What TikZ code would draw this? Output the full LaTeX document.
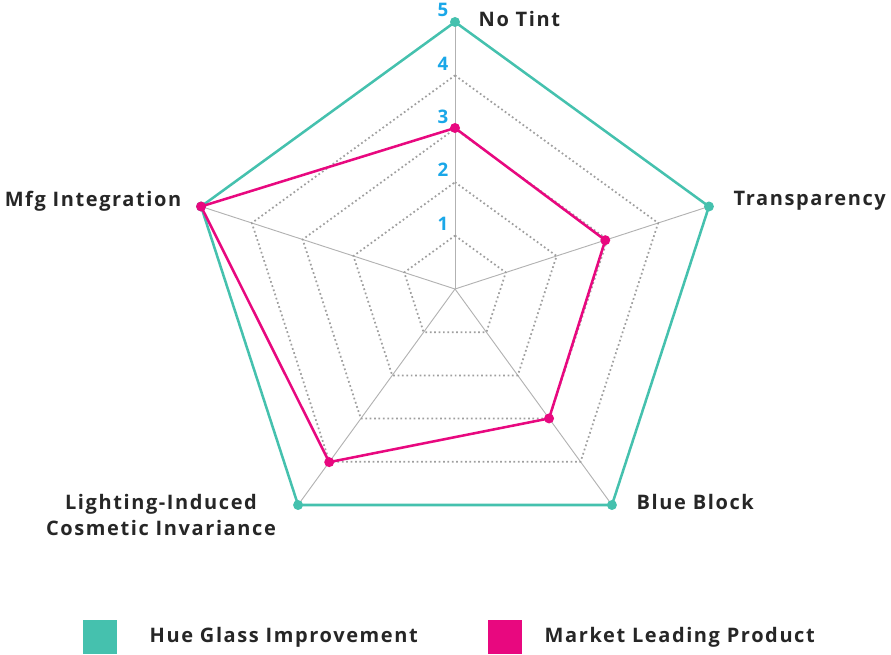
\documentclass[tikz,border=0pt]{standalone}
\usepackage{fontspec}
\setmainfont[LetterSpace=8]{Open Sans}
\newfontfamily\tickfont{Open Sans}
\usetikzlibrary{calc}
\definecolor{hueteal}{HTML}{45C1AE}
\definecolor{marketpink}{HTML}{E8087F}
\definecolor{tickblue}{HTML}{1AA7E8}
\tikzset{
  axisline/.style={draw=gray!60,line width=0.7pt},
  gridring/.style={draw=gray!75,dotted,line width=1.3pt},
  hueline/.style={draw=hueteal,line width=1.9pt,line join=round},
  marketline/.style={draw=marketpink,line width=1.9pt,line join=round},
  axislabel/.style={font=\bfseries\fontsize{15}{17}\selectfont,text=black!85,align=center},
  ticklabel/.style={font=\tickfont\bfseries\fontsize{14}{15}\selectfont,text=tickblue,inner sep=0pt},
  legendbox/.style={minimum size=25pt,inner sep=0pt}
}
\begin{document}
\begin{tikzpicture}[x=0.75pt,y=-0.75pt]
\useasboundingbox (0,0) rectangle (891,655);
\coordinate (c) at (455,289);
% axes (y points down, so angles are mirrored)
\foreach \a [count=\i] in {-90,-18,54,126,198}{
  \coordinate (ax\i) at ($(c)+(\a:267)$);
  \draw[axisline] (c) -- (ax\i);
}
% dotted rings
\foreach \r in {1,2,3,4}{
  \draw[gridring] ($(c)+(-90:53.4*\r)$) -- ($(c)+(-18:53.4*\r)$) -- ($(c)+(54:53.4*\r)$)
    -- ($(c)+(126:53.4*\r)$) -- ($(c)+(198:53.4*\r)$) -- cycle;
}
% scale numbers
\foreach \r in {1,...,5}
  \node[ticklabel] (t\r) at ($(c)+(-12,-53.4*\r-12)$) {\r};
% hue glass
\draw[hueline] (ax1) -- (ax2) -- (ax3) -- (ax4) -- (ax5) -- cycle;
\foreach \i in {1,...,5} \fill[hueteal] (ax\i) circle (5);
% market product
\coordinate (m1) at ($(c)+(-90:161)$);
\coordinate (m2) at ($(c)+(-18:158)$);
\coordinate (m3) at ($(c)+(54:160)$);
\coordinate (m4) at ($(c)+(126:214)$);
\coordinate (m5) at ($(c)+(198:267)$);
\draw[marketline] (m1) -- (m2) -- (m3) -- (m4) -- (m5) -- cycle;
\foreach \i in {1,...,5} \fill[marketpink] (m\i) circle (5);
% labels
\node[axislabel,anchor=west] (notint) at (474,19) {No Tint};
\node[axislabel,anchor=west] (transp) at (729,201) {Transparency};
\node[axislabel,anchor=west] (blue) at (632,502) {Blue Block};
\node[axislabel] (light) at (161,515) {Lighting-Induced\\[2pt]Cosmetic Invariance};
\node[axislabel,anchor=east] (mfg) at (186,201) {Mfg Integration};
% legend
\node[legendbox,fill=hueteal] (huebox) at (100,637) {};
\node[axislabel,anchor=west] (huetext) at (145,637) {Hue Glass Improvement};
\node[legendbox,fill=marketpink] (mktbox) at (505,637) {};
\node[axislabel,anchor=west] (mkttext) at (540,637) {Market Leading Product};
\end{tikzpicture}
\end{document}
